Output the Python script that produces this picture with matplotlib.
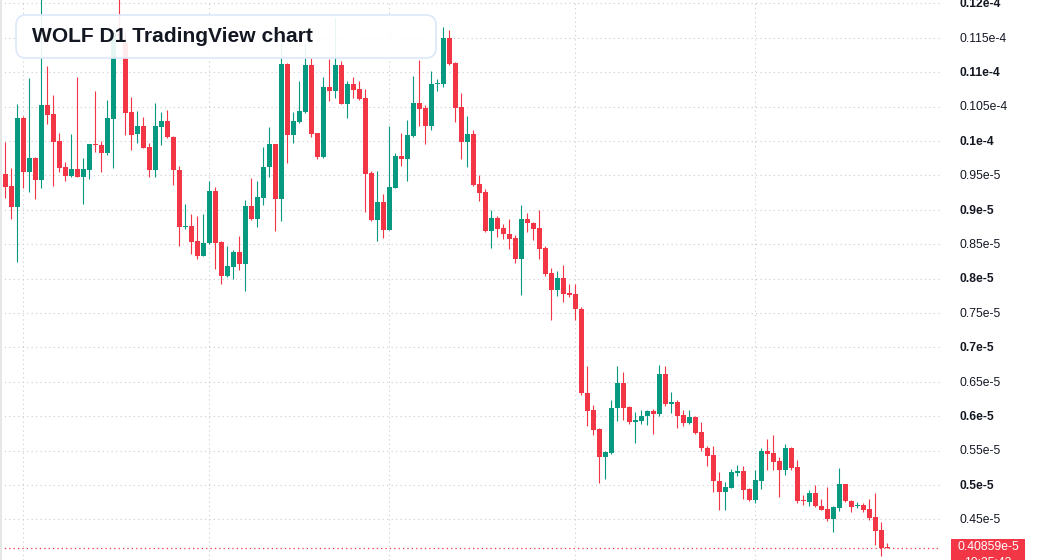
import numpy as np
import pandas as pd
import matplotlib
matplotlib.use("Agg")
import matplotlib.pyplot as plt
from matplotlib.patches import FancyBboxPatch, Rectangle

# ---------------- data (prices in units of 1e-6) ----------------
TITLE = "WOLF D1 TradingView chart"
UNIT = 1e-6
start_date = "2024-07-29"

opens = [9.52, 9.34, 9.04, 10.34, 9.55, 9.75, 9.43, 10.52, 10.39, 10.00,
         9.62, 9.49, 9.59, 9.48, 9.58, 9.95, 9.94, 9.83, 10.32, 11.55,
         11.42, 10.42, 10.10, 10.22, 9.91, 9.58, 10.20, 10.29, 10.06, 9.58,
         8.75, 8.77, 8.55, 8.33, 8.51, 9.27, 8.53, 8.03, 8.17, 8.39,
         8.21, 9.05, 8.86, 9.17, 9.62, 9.95, 9.15, 11.12, 10.08, 10.27,
         10.42, 11.10, 10.11, 9.76, 10.78, 10.73, 11.10, 10.54, 10.83, 10.75,
         10.62, 9.53, 8.85, 9.11, 8.71, 9.32, 9.78, 9.74, 10.07, 10.55,
         10.48, 10.22, 10.83, 10.83, 11.50, 11.13, 10.49, 9.99, 10.10, 9.37,
         9.26, 8.69, 8.88, 8.73, 8.65, 8.59, 8.29, 8.86, 8.80, 8.73,
         8.44, 8.08, 7.84, 8.01, 7.79, 7.77, 7.56, 6.34, 6.09, 5.81,
         5.40, 5.46, 6.12, 6.48, 6.13, 5.92, 5.93, 6.00, 6.07, 6.03,
         6.61, 6.17, 6.20, 6.01, 5.90, 5.99, 5.77, 5.54, 5.43, 5.06,
         4.89, 4.96, 5.18, 5.20, 4.94, 4.78, 5.06, 5.49, 5.46, 5.35,
         5.21, 5.54, 5.26, 4.77, 4.75, 4.88, 4.70, 4.65, 4.50, 4.67,
         5.01, 4.77, 4.69, 4.71, 4.65, 4.53, 4.34, 4.10]
highs = [9.99, 9.60, 10.54, 10.36, 10.91, 9.76, 12.20, 11.09, 10.67, 10.11,
         9.69, 10.10, 10.93, 9.75, 9.96, 10.73, 10.00, 10.60, 11.58, 12.20,
         11.57, 10.64, 10.43, 10.35, 9.97, 10.55, 10.42, 10.45, 10.07, 9.64,
         9.08, 8.94, 8.91, 8.94, 9.42, 9.33, 8.54, 8.47, 8.41, 8.62,
         9.14, 9.46, 9.42, 9.91, 10.20, 9.96, 11.42, 11.13, 10.42, 10.87,
         11.42, 11.20, 10.12, 10.93, 11.19, 11.79, 11.16, 10.87, 10.93, 10.87,
         10.75, 9.56, 9.56, 9.23, 10.22, 9.83, 10.11, 10.30, 10.94, 11.18,
         10.52, 11.02, 10.90, 11.65, 11.61, 11.14, 10.70, 10.36, 10.16, 9.50,
         9.30, 9.00, 8.91, 8.79, 8.86, 8.63, 9.07, 8.95, 8.82, 9.00,
         8.47, 8.15, 8.11, 8.20, 7.92, 7.92, 7.59, 6.73, 6.16, 5.83,
         5.49, 6.23, 6.73, 6.64, 6.15, 6.06, 6.09, 6.09, 6.10, 6.74,
         6.73, 6.35, 6.23, 6.09, 6.09, 6.00, 5.91, 5.57, 5.57, 5.19,
         5.04, 5.23, 5.29, 5.27, 4.95, 5.22, 5.54, 5.67, 5.73, 5.40,
         5.59, 5.55, 5.36, 4.85, 4.93, 5.00, 4.79, 4.97, 4.69, 5.25,
         5.02, 4.78, 4.75, 4.74, 4.80, 4.88, 4.46, 4.16]
lows = [9.17, 8.87, 8.24, 9.31, 9.26, 9.15, 9.32, 10.25, 9.35, 9.55,
        9.41, 9.48, 9.47, 9.09, 9.45, 9.84, 9.55, 9.80, 9.61, 11.45,
        10.09, 9.87, 9.97, 9.89, 9.48, 9.48, 9.94, 10.04, 9.36, 8.47,
        8.72, 8.36, 8.29, 8.32, 8.50, 8.14, 7.92, 8.02, 8.00, 8.13,
        7.82, 8.85, 8.75, 9.07, 9.47, 8.69, 8.83, 9.68, 9.97, 10.26,
        10.41, 10.06, 9.74, 9.75, 10.58, 10.63, 10.53, 10.34, 10.63, 10.60,
        8.97, 8.84, 8.55, 8.59, 8.70, 9.31, 9.64, 9.42, 10.06, 10.22,
        9.96, 10.16, 10.72, 10.79, 11.11, 10.28, 9.74, 9.62, 9.35, 9.13,
        8.67, 8.44, 8.61, 8.58, 8.43, 8.22, 7.76, 8.67, 8.56, 8.29,
        8.04, 7.39, 7.74, 7.66, 7.73, 7.40, 6.31, 5.86, 5.73, 5.03,
        5.09, 5.45, 5.93, 5.95, 5.89, 5.61, 5.89, 5.87, 5.74, 6.00,
        6.14, 6.05, 5.83, 5.86, 5.89, 5.74, 5.50, 5.28, 4.90, 4.63,
        4.63, 4.95, 5.13, 4.80, 4.77, 4.74, 4.94, 5.22, 5.22, 4.82,
        5.15, 5.22, 4.74, 4.71, 4.69, 4.68, 4.63, 4.48, 4.31, 4.62,
        4.75, 4.60, 4.66, 4.61, 4.49, 4.13, 3.97, 4.0859]
closes = [9.33, 9.04, 10.33, 9.55, 9.75, 9.43, 10.52, 10.38, 9.99, 9.61,
          9.49, 9.59, 9.48, 9.59, 9.95, 9.94, 9.83, 10.33, 11.57, 11.53,
          10.40, 10.09, 10.22, 9.90, 9.58, 10.22, 10.29, 10.05, 9.57, 8.75,
          8.77, 8.53, 8.32, 8.52, 9.27, 8.52, 8.03, 8.18, 8.39, 8.21,
          9.05, 8.86, 9.18, 9.62, 9.95, 9.15, 11.12, 10.08, 10.29, 10.43,
          11.10, 10.10, 9.76, 10.78, 10.73, 11.10, 10.54, 10.83, 10.74, 10.61,
          9.52, 8.85, 9.11, 8.71, 9.33, 9.78, 9.74, 10.09, 10.55, 10.47,
          10.22, 10.83, 10.84, 11.50, 11.12, 10.48, 9.99, 10.10, 9.36, 9.25,
          8.69, 8.88, 8.72, 8.64, 8.58, 8.29, 8.86, 8.80, 8.72, 8.43,
          8.07, 7.84, 8.01, 7.78, 7.76, 7.55, 6.33, 6.08, 5.80, 5.40,
          5.48, 6.12, 6.48, 6.12, 5.92, 5.95, 6.00, 6.07, 6.03, 6.61,
          6.17, 6.20, 6.00, 5.90, 5.99, 5.76, 5.53, 5.42, 5.05, 4.89,
          4.97, 5.19, 5.20, 4.93, 4.78, 5.07, 5.49, 5.45, 5.34, 5.21,
          5.54, 5.25, 4.76, 4.76, 4.88, 4.69, 4.64, 4.50, 4.68, 5.01,
          4.76, 4.68, 4.71, 4.64, 4.52, 4.33, 4.09, 4.0859]

tick_values = [12.0, 11.5, 11.0, 10.5, 10.0, 9.5, 9.0, 8.5, 8.0, 7.5,
               7.0, 6.5, 6.0, 5.5, 5.0, 4.5]
tick_labels = ["0.12e-4", "0.115e-4", "0.11e-4", "0.105e-4", "0.1e-4",
               "0.95e-5", "0.9e-5", "0.85e-5", "0.8e-5", "0.75e-5",
               "0.7e-5", "0.65e-5", "0.6e-5", "0.55e-5", "0.5e-5", "0.45e-5"]
last_price_label = "0.40859e-5"
countdown_label = "10:25:43"

# ---------------- styling ----------------
UP = "#089981"
DOWN = "#f23645"
GRID = "#cccccc"
TEXT = "#131722"
W, H = 1037, 560

o = np.array(opens) * UNIT
h = np.array(highs) * UNIT
l = np.array(lows) * UNIT
c = np.array(closes) * UNIT
n = len(o)
x = np.arange(n)
dates = pd.date_range(start_date, periods=n + 12, freq="D")

fig = plt.figure(figsize=(W / 100, H / 100), dpi=100)
fig.patch.set_facecolor("white")
ax = fig.add_axes([0, 0, 941 / W, 1])
ax.set_facecolor("white")
for s in ax.spines.values():
    s.set_visible(False)
ax.set_xticks([])
ax.set_yticks([])

# axis ranges (pixel mapping: candle i at 5.33 + 6 i px)
ax.set_xlim(-0.888, 155.94)
ax.set_ylim((12.0 - (560 - 3.3) / 68.8) * UNIT, (12.0 + 3.3 / 68.8) * UNIT)

# grid
for v in tick_values:
    ax.axhline(v * UNIT, color=GRID, lw=0.8, ls=(0, (1, 3)), zorder=0)
month_starts = [i for i, d in enumerate(dates) if d.day == 1]
for i in month_starts:
    ax.axvline(i, color=GRID, lw=0.8, ls=(0, (1, 3)), zorder=0)

# candles
up = c >= o
colors = np.where(up, UP, DOWN)
ax.vlines(x, l, h, colors=colors, lw=0.8, zorder=2)
min_h = UNIT / 68.8
body_bot = np.minimum(o, c)
body_h = np.maximum(np.abs(c - o), min_h)
ax.bar(x, body_h, bottom=body_bot, width=0.78, color=colors, linewidth=0,
       zorder=3)

# last price line
ax.axhline(c[-1], color=DOWN, lw=0.9, ls=(0, (1, 2.5)), zorder=4)

# left border strip
fig.add_artist(Rectangle((0, 0), 2 / W, 1, transform=fig.transFigure,
                         facecolor="#e6e6e6", edgecolor="none", zorder=6))

# price axis labels
for v, lab in zip(tick_values, tick_labels):
    py = 3.3 + (12.0 - v) * 68.8
    bold = abs(v - round(v)) < 1e-9
    fig.text(959 / W, 1 - (py + 0.8) / H, lab, ha="left", va="center",
             fontsize=8.7, color=TEXT, family="Liberation Sans",
             fontweight="bold" if bold else "normal")

# last price tag
fig.add_artist(Rectangle((951 / W, 0), (1025 - 951) / W, 1 - 539 / H,
                         transform=fig.transFigure, facecolor=DOWN,
                         edgecolor="none", zorder=7))
fig.text(988 / W, 1 - 547.5 / H, last_price_label, ha="center", va="center",
         fontsize=8.7, color="white", family="Liberation Sans", zorder=8)
fig.text(988 / W, 1 - 563 / H, countdown_label, ha="center", va="center",
         fontsize=8.7, color="white", family="Liberation Sans", zorder=8)

# title box
box = FancyBboxPatch((16 / 100, (H - 58) / 100), (436 - 16) / 100, (58 - 15) / 100,
                     boxstyle="round,pad=0,rounding_size=0.1",
                     transform=fig.dpi_scale_trans, facecolor=(1, 1, 1, 0.9),
                     edgecolor="#dce8fa", linewidth=1.2, zorder=9)
fig.add_artist(box)
fig.text(32 / W, 1 - 37 / H, TITLE, ha="left", va="center", fontsize=15.1,
         fontweight="bold", color=TEXT, family="Liberation Sans", zorder=10)

fig.savefig("out.png", dpi=100, facecolor="white")
